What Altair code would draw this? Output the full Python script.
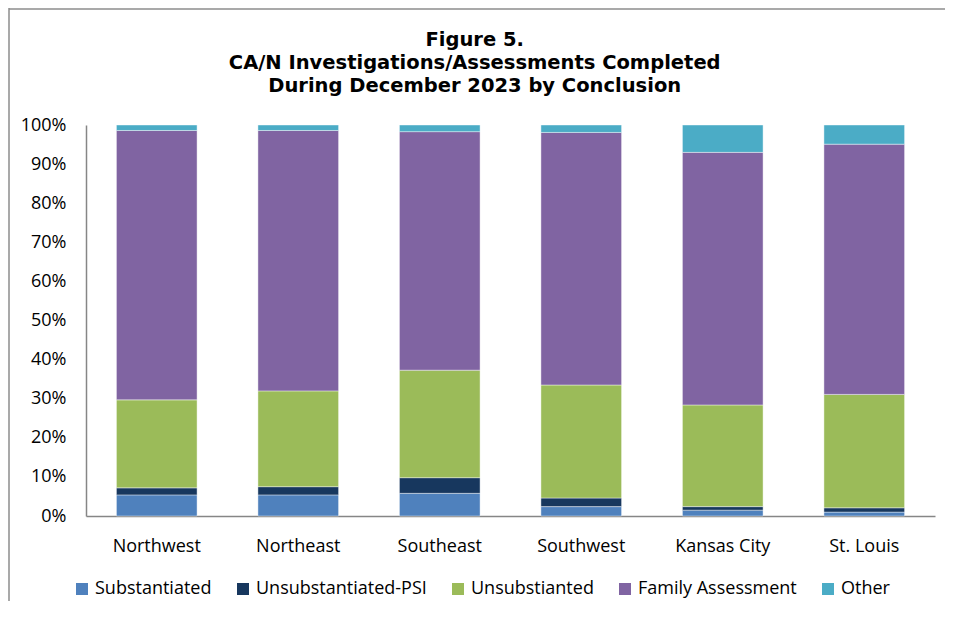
import altair as alt
import pandas as pd

regions = ["Northwest", "Northeast", "Southeast", "Southwest", "Kansas City", "St. Louis"]
conclusions = ["Substantiated", "Unsubstantiated-PSI", "Unsubstianted", "Family Assessment", "Other"]
colors = ["#4F81BD", "#17375E", "#9BBB59", "#8064A2", "#4BACC6"]

substantiated = [5.4, 5.4, 5.8, 2.4, 1.5, 1.0]
unsub_psi = [1.8, 2.1, 4.0, 2.2, 0.9, 1.1]
unsub = [22.5, 24.5, 27.5, 28.9, 26.0, 29.0]
family = [68.9, 66.6, 61.0, 64.6, 64.6, 64.0]
other = [1.4, 1.4, 1.7, 1.9, 7.0, 4.9]

title_lines = ["Figure 5.", "CA/N Investigations/Assessments Completed",
               "During December 2023 by Conclusion"]

series = [substantiated, unsub_psi, unsub, family, other]
rows = []
for ci, (name, vals) in enumerate(zip(conclusions, series)):
    for r, v in zip(regions, vals):
        rows.append({"Region": r, "Conclusion": name, "Pct": v / 100.0, "k": ci})
df = pd.DataFrame(rows)

label_font = "Open Sans"
title_font = "DejaVu Sans"

bars = alt.Chart(df).mark_bar(stroke="white", strokeWidth=0.6, strokeOpacity=0.7).encode(
    x=alt.X("Region:N", sort=regions, title=None,
            scale=alt.Scale(paddingInner=0.43, paddingOuter=0.215),
            axis=alt.Axis(labelAngle=0, labelFontSize=18, labelFont=label_font,
                          labelColor="#000000", ticks=False, domainColor="#868686",
                          domainWidth=1.5, labelPadding=21)),
    y=alt.Y("Pct:Q", stack="zero", title=None,
            scale=alt.Scale(domain=[0, 1], nice=False),
            axis=alt.Axis(format=".0%", values=[i / 10 for i in range(11)],
                          labelFontSize=18, labelFont=label_font, labelColor="#000000",
                          ticks=False, grid=False, domainColor="#868686",
                          domainWidth=1.5, labelPadding=20)),
    color=alt.Color("Conclusion:N", sort=conclusions,
                    scale=alt.Scale(domain=conclusions, range=colors),
                    legend=alt.Legend(title=None, orient="none", direction="horizontal",
                                      legendX=-13, legendY=455, symbolType="square",
                                      symbolSize=144, symbolStrokeWidth=0,
                                      labelFontSize=18, labelFont=label_font,
                                      labelColor="#000000", columnPadding=22,
                                      labelOffset=4, labelLimit=400)),
    order=alt.Order("k:Q", sort="ascending"),
)

one = pd.DataFrame({"a": [0]})
frame = alt.Chart(one).mark_rule(color="#8c8c8c", strokeWidth=1.5).encode(
    x=alt.value(-77), x2=alt.value(-77), y=alt.value(-117), y2=alt.value(480)
)
frame_top = alt.Chart(one).mark_rule(color="#8c8c8c", strokeWidth=1.5).encode(
    x=alt.value(-77), x2=alt.value(860), y=alt.value(-116), y2=alt.value(-116)
)

title_layers = []
for line, yb in zip(title_lines, [-79.3, -55.7, -32.7]):
    title_layers.append(
        alt.Chart(one).mark_text(font=title_font, fontSize=19.5, fontWeight="bold",
                                 color="#000000", align="center", baseline="alphabetic").encode(
            x=alt.value(388.7), y=alt.value(yb), text=alt.value(line)
        )
    )

chart = alt.layer(bars, frame, frame_top, *title_layers).properties(
    width=849, height=391,
    autosize=alt.AutoSizeParams(type="none"),
    padding={"left": 78, "top": 117, "right": 10, "bottom": 85},
).configure_view(stroke=None)

chart.save("out.html", embed_options={"renderer": "svg", "actions": False})
